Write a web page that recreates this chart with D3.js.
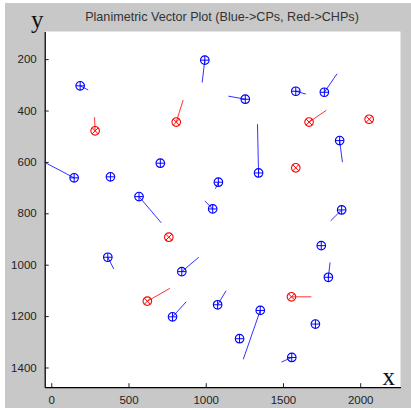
<!DOCTYPE html>
<html>
<head>
<meta charset="utf-8">
<script src="https://cdn.jsdelivr.net/npm/d3@7"></script>
<style>
  html, body { margin: 0; padding: 0; background: #fff; }
  svg { display: block; }
</style>
</head>
<body>
<script>
'use strict';

// control points (blue): position and vector tip, null = no vector drawn
var cpX    = [187, 994, 1256, 1583, 1768, 1867, 1342, 148, 383, 706, 568, 366, 845, 1045, 1082, 1880, 1748, 1794, 785, 1077, 1353, 1219, 1710, 1557];
var cpY    = [304, 204, 356, 325, 329, 517, 643, 662, 658, 605, 735, 971, 1027, 783, 679, 787, 926, 1049, 1203, 1156, 1178, 1288, 1231, 1361];
var cpEndX = [239, 977, 1146, 1648, 1850, 1885, 1335, -45, null, null, 712, 405, 955, 994, 1063, 1809, null, 1805, 874, 1132, 1243, null, null, 1490];
var cpEndY = [320, 291, 344, 336, 257, 601, 453, 601, null, null, 837, 1017, 971, 752, 704, 829, null, 991, 1144, 1101, 1368, null, null, 1379];

// check points (red)
var chpX    = [284, 809, 1669, 2058, 761, 1583, 622, 1555];
var chpY    = [479, 445, 445, 434, 893, 623, 1142, 1125];
var chpEndX = [280, 854, 1781, null, null, null, 768, 1684];
var chpEndY = [426, 359, 399, null, null, null, 1092, 1125];

var xTicks = [0, 500, 1000, 1500, 2000];
var yTicks = [200, 400, 600, 800, 1000, 1200, 1400];

var W = 411, H = 410;
var margin = { left: 44.7, top: 31.5, right: 400.5, bottom: 387.2 };

var svg = d3.select('body').append('svg')
  .attr('width', W)
  .attr('height', H);

// figure background
svg.append('rect')
  .attr('x', 5).attr('y', 3)
  .attr('width', W - 5).attr('height', 405)
  .attr('fill', '#c8c8c8');

var x = d3.scaleLinear().domain([-42.6, 2261]).range([margin.left, margin.right]);
var y = d3.scaleLinear().domain([92.5, 1476.7]).range([margin.top, margin.bottom]);

svg.append('rect')
  .attr('x', margin.left).attr('y', margin.top)
  .attr('width', margin.right - margin.left)
  .attr('height', margin.bottom - margin.top)
  .attr('fill', '#ffffff');

svg.append('clipPath').attr('id', 'plot-clip')
  .append('rect')
  .attr('x', margin.left).attr('y', margin.top)
  .attr('width', margin.right - margin.left)
  .attr('height', margin.bottom - margin.top);

// axes, ticks point inward like matlab
var xAxis = d3.axisBottom(x).tickValues(xTicks).tickFormat(d3.format('d'))
  .tickSizeInner(-4).tickSizeOuter(0).tickPadding(9);
var yAxis = d3.axisLeft(y).tickValues(yTicks).tickFormat(d3.format('d'))
  .tickSizeInner(-4).tickSizeOuter(0).tickPadding(8);

var gx = svg.append('g')
  .attr('transform', 'translate(0,' + margin.bottom + ')')
  .call(xAxis);
var gy = svg.append('g')
  .attr('transform', 'translate(' + margin.left + ',0)')
  .call(yAxis);

[gx, gy].forEach(function(g) {
  g.select('.domain').attr('stroke', '#000').attr('stroke-width', 1.3);
  g.selectAll('.tick line').attr('stroke', '#222');
  g.selectAll('.tick text')
    .attr('fill', '#222')
    .style('font-family', '"Liberation Sans", Arial, sans-serif')
    .style('font-size', '11.5px');
});

// title
svg.append('text')
  .attr('x', 222).attr('y', 21)
  .attr('text-anchor', 'middle')
  .attr('fill', '#333')
  .style('font-family', '"Liberation Sans", Arial, sans-serif')
  .style('font-size', '12.6px')
  .text('Planimetric Vector Plot (Blue->CPs, Red->CHPs)');

// axis letters
svg.append('text')
  .attr('x', 31).attr('y', 28)
  .style('font-family', '"Liberation Serif", "Times New Roman", serif')
  .style('font-size', '25px')
  .attr('fill', '#111')
  .text('y');
svg.append('text')
  .attr('x', 382.5).attr('y', 385)
  .style('font-family', '"Liberation Serif", "Times New Roman", serif')
  .style('font-size', '25px')
  .attr('fill', '#111')
  .text('x');

var plot = svg.append('g').attr('clip-path', 'url(#plot-clip)');

function drawSet(xs, ys, exs, eys, color, kind) {
  var idx = d3.range(xs.length);
  var withVec = idx.filter(function(i) { return exs[i] !== null; });

  plot.selectAll('line.vec-' + kind)
    .data(withVec)
    .enter().append('line')
    .attr('class', 'vec-' + kind)
    .attr('x1', function(i) { return x(xs[i]); })
    .attr('y1', function(i) { return y(ys[i]); })
    .attr('x2', function(i) { return x(exs[i]); })
    .attr('y2', function(i) { return y(eys[i]); })
    .attr('stroke', color)
    .attr('stroke-width', 1)
    .attr('stroke-opacity', 0.8);

  var r = 4.3;
  var m = plot.selectAll('g.mk-' + kind)
    .data(idx)
    .enter().append('g')
    .attr('class', 'mk-' + kind)
    .attr('transform', function(i) {
      return 'translate(' + x(xs[i]) + ',' + y(ys[i]) + ')';
    });

  m.append('circle')
    .attr('r', r)
    .attr('fill', 'none')
    .attr('stroke', color)
    .attr('stroke-width', 1.1);

  var d = kind === 'cp' ? r : r * 0.72;
  var segs = kind === 'cp'
    ? [[-d, 0, d, 0], [0, -d, 0, d]]
    : [[-d, -d, d, d], [-d, d, d, -d]];
  segs.forEach(function(s) {
    m.append('line')
      .attr('x1', s[0]).attr('y1', s[1])
      .attr('x2', s[2]).attr('y2', s[3])
      .attr('stroke', color)
      .attr('stroke-width', 1);
  });
}

drawSet(cpX, cpY, cpEndX, cpEndY, '#0000ff', 'cp');
drawSet(chpX, chpY, chpEndX, chpEndY, '#ff0000', 'chp');
</script>
</body>
</html>
